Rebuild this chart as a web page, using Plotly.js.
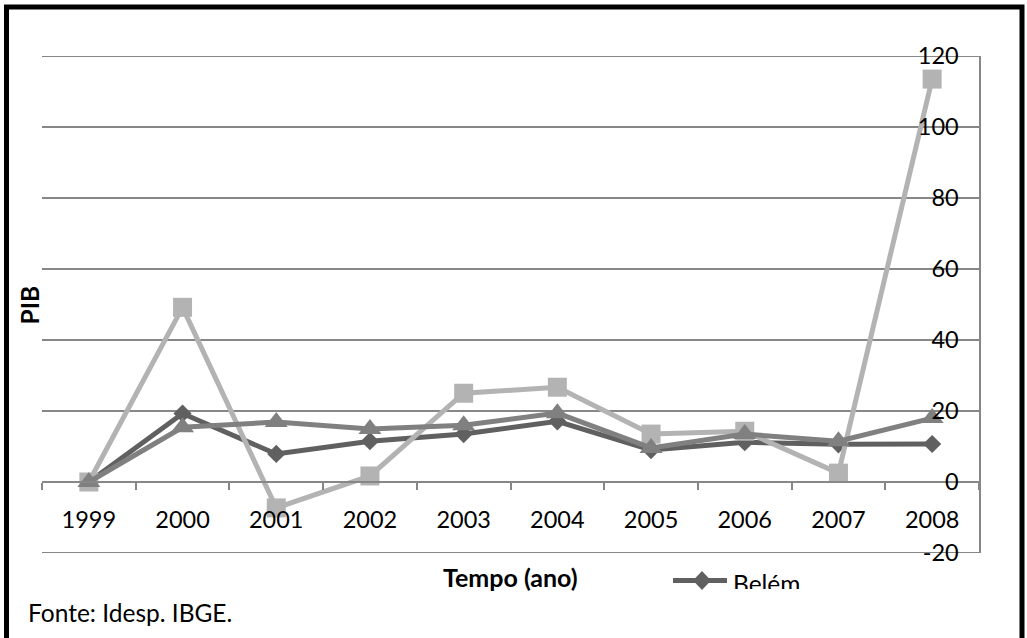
<!DOCTYPE html>
<html>
<head>
<meta charset="utf-8">
<script src="https://cdn.plot.ly/plotly-3.0.1.min.js"></script>
<style>html,body{margin:0;padding:0;background:#fff}#chart{width:1027px;height:638px}</style>
</head>
<body>
<div id="chart"></div>
<script>
// ---- data ----
var years = ['1999','2000','2001','2002','2003','2004','2005','2006','2007','2008'];
var belem = [0, 19.3, 7.9, 11.5, 13.5, 17.1, 9.0, 11.2, 10.6, 10.7];
var serie2 = [0, 49.2, -7.3, 1.7, 25.0, 26.7, 13.5, 14.3, 2.5, 113.5];
var serie3 = [0, 15.4, 16.9, 14.9, 16.0, 19.4, 9.6, 13.5, 11.5, 18.0];
var seriesNames = ['Belém', 'Série 2', 'Série 3'];
var yTickVals = [-20, 0, 20, 40, 60, 80, 100, 120];
var yTickText = ['-20', '0', '20', '40', '60', '80', '100', '120'];
var yMin = -20, yMax = 120;

// layout geometry (pixels)
var W = 1027, H = 638, L = 42, R = 48, T = 56, B = 85;
var pw = W - L - R, ph = H - T - B;
function px(x) { return (x - L) / pw; }
function py(y) { return (H - B - y) / ph; }

var FONT = 'Lato, "Open Sans", sans-serif';
var gridCol = '#878787';

var traces = [
  {x: years, y: belem, name: seriesNames[0], type: 'scatter', mode: 'lines+markers',
   line: {color: '#606060', width: 5}, marker: {symbol: 'diamond', size: 14, color: '#606060'}, cliponaxis: false},
  {x: years, y: serie2, name: seriesNames[1], type: 'scatter', mode: 'lines+markers',
   line: {color: '#b3b3b3', width: 5}, marker: {symbol: 'square', size: 19, color: '#b3b3b3'}, cliponaxis: false},
  {x: years, y: serie3, name: seriesNames[2], type: 'scatter', mode: 'lines+markers',
   line: {color: '#808080', width: 5}, marker: {symbol: 'triangle-up', size: 20, color: '#808080'}, cliponaxis: false}
];

// legend diamond geometry
var lx = 702, ly = 580.5;
var layout = {
  width: W, height: H,
  margin: {l: L, r: R, t: T, b: B, pad: 0},
  paper_bgcolor: '#fff', plot_bgcolor: '#fff',
  showlegend: false,
  font: {family: FONT, size: 23, color: '#000'},
  xaxis: {
    type: 'category', anchor: 'free', position: (0 - yMin) / (yMax - yMin),
    showline: true, linecolor: gridCol, linewidth: 2,
    ticks: 'outside', ticklen: 7, tickwidth: 2, tickcolor: gridCol, tickson: 'boundaries',
    showgrid: false, zeroline: false,
    tickfont: {family: FONT, size: 23.5, color: '#000'}, ticklabelstandoff: 17,
    range: [-0.5, 9.5], fixedrange: true
  },
  yaxis: {
    side: 'right', range: [yMin, yMax], tickvals: yTickVals, ticktext: yTickText,
    showline: true, linecolor: gridCol, linewidth: 2, mirror: false,
    ticks: '', ticklabelposition: 'inside', ticklabeloverflow: 'allow', ticklabelstandoff: 22,
    showgrid: true, gridcolor: gridCol, gridwidth: 2, zeroline: false,
    tickfont: {family: FONT, size: 23.5, color: '#000'}, fixedrange: true
  },
  shapes: [
    {type: 'rect', xref: 'paper', yref: 'paper', x0: px(6.5), x1: px(1022), y0: py(700), y1: py(7),
     line: {color: '#000', width: 5}, fillcolor: 'rgba(0,0,0,0)', layer: 'below'},
    {type: 'line', xref: 'paper', yref: 'y', x0: 0, x1: 1, y0: yMax, y1: yMax,
     line: {color: gridCol, width: 2}, layer: 'below'},
    {type: 'line', xref: 'paper', yref: 'y', x0: 0, x1: 1, y0: yMin, y1: yMin,
     line: {color: gridCol, width: 2}, layer: 'below'},
    {type: 'line', xref: 'paper', yref: 'paper', x0: px(673), x1: px(727), y0: py(ly), y1: py(ly),
     line: {color: '#606060', width: 5}},
    {type: 'path', xref: 'paper', yref: 'paper',
     path: 'M' + px(lx - 9) + ',' + py(ly) + ' L' + px(lx) + ',' + py(ly - 9.5) + ' L' + px(lx + 9) + ',' + py(ly) + ' L' + px(lx) + ',' + py(ly + 9.5) + ' Z',
     fillcolor: '#606060', line: {width: 0}}
  ],
  annotations: [
    {text: '<b>PIB</b>', xref: 'paper', yref: 'paper', x: px(28.5), y: py(305), textangle: -90,
     showarrow: false, font: {family: FONT, size: 24.5, color: '#000'}, xanchor: 'center', yanchor: 'middle'},
    {text: '<b>Tempo (ano)</b>', xref: 'paper', yref: 'paper', x: px(510), y: py(577),
     showarrow: false, font: {family: FONT, size: 25, color: '#000'}, xanchor: 'center', yanchor: 'middle'},
    {text: 'Fonte: Idesp. IBGE.', xref: 'paper', yref: 'paper', x: px(26), y: py(612),
     showarrow: false, font: {family: FONT, size: 24.5, color: '#000'}, xanchor: 'left', yanchor: 'middle'},
    {text: seriesNames[0], xref: 'paper', yref: 'paper', x: px(731), y: py(567), height: 20, valign: 'top',
     showarrow: false, font: {family: FONT, size: 24.5, color: '#000'}, xanchor: 'left', yanchor: 'top'}
  ]
};

Plotly.newPlot('chart', traces, layout, {displayModeBar: false, staticPlot: true});
</script>
</body>
</html>
